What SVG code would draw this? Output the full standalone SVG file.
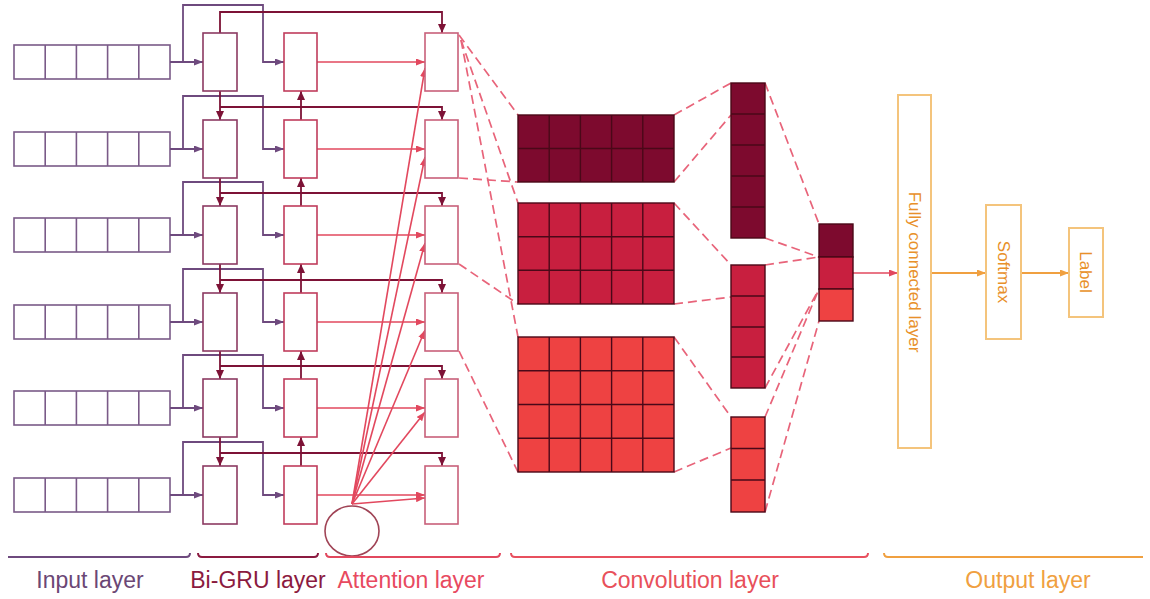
<svg xmlns="http://www.w3.org/2000/svg" width="1150" height="599" viewBox="0 0 1150 599">
<style>
.inp{fill:#fff;stroke:#7a5a88;stroke-width:1.6}
.fw{fill:#fff;stroke:#8c3a62;stroke-width:1.6}
.bw{fill:#fff;stroke:#c03c5c;stroke-width:1.6}
.att{fill:#fff;stroke:#c8607a;stroke-width:1.6}
.pl{fill:none;stroke:#6e4a7e;stroke-width:1.8}
.mr{fill:none;stroke:#7d1236;stroke-width:1.8}
.rd{fill:none;stroke:#e2485e;stroke-width:1.6}
.ds{fill:none;stroke:#e8647a;stroke-width:1.7;stroke-dasharray:9 5}
.c1{fill:#7d0a2e;stroke:#4a0818;stroke-width:1.4}
.c2{fill:#c81f3f;stroke:#4a0818;stroke-width:1.4}
.c3{fill:#ee4242;stroke:#4a0818;stroke-width:1.4}
.ob{fill:#fff;stroke:#f4c47c;stroke-width:2}
.ot{fill:#e8902a;font-family:'Liberation Sans',Arial,sans-serif;font-size:17px}
.or{fill:none;stroke:#f0a040;stroke-width:2}
.lb{font-family:'Liberation Sans',Arial,sans-serif;font-size:23px;text-anchor:middle}
.br{fill:none;stroke-width:2}
</style>
<defs>
<marker id="aP" markerWidth="9" markerHeight="7" refX="9" refY="3.5" orient="auto" markerUnits="userSpaceOnUse"><path d="M0,0 L9,3.5 L0,7 z" fill="#6e4a7e"/></marker>
<marker id="aM" markerWidth="9" markerHeight="8" refX="9" refY="4" orient="auto" markerUnits="userSpaceOnUse"><path d="M0,0 L9,4 L0,8 z" fill="#7d1236"/></marker>
<marker id="aR" markerWidth="9" markerHeight="7" refX="9" refY="3.5" orient="auto" markerUnits="userSpaceOnUse"><path d="M0,0 L9,3.5 L0,7 z" fill="#e2485e"/></marker>
<marker id="aO" markerWidth="9" markerHeight="7" refX="9" refY="3.5" orient="auto" markerUnits="userSpaceOnUse"><path d="M0,0 L9,3.5 L0,7 z" fill="#f0a040"/></marker>
<g id="cells5">
<rect class="inp" x="0" y="0" width="156" height="34"/>
<path class="inp" d="M31.2,0V34M62.4,0V34M93.6,0V34M124.8,0V34"/>
</g>
</defs>

<g id="input-layer">
<g id="input-1"><use href="#cells5" x="14" y="45"/></g>
<g id="input-2"><use href="#cells5" x="14" y="132"/></g>
<g id="input-3"><use href="#cells5" x="14" y="218"/></g>
<g id="input-4"><use href="#cells5" x="14" y="305"/></g>
<g id="input-5"><use href="#cells5" x="14" y="391"/></g>
<g id="input-6"><use href="#cells5" x="14" y="478"/></g>
</g>

<g id="connectors">
<!-- input routes -->
<path class="pl" d="M170,62H203" marker-end="url(#aP)"/>
<path class="pl" d="M183,62V5H263V62H284" marker-end="url(#aP)"/>
<path class="pl" d="M170,149H203" marker-end="url(#aP)"/>
<path class="pl" d="M183,149V96H263V149H284" marker-end="url(#aP)"/>
<path class="pl" d="M170,235H203" marker-end="url(#aP)"/>
<path class="pl" d="M183,235V182H263V235H284" marker-end="url(#aP)"/>
<path class="pl" d="M170,322H203" marker-end="url(#aP)"/>
<path class="pl" d="M183,322V269H263V322H284" marker-end="url(#aP)"/>
<path class="pl" d="M170,408H203" marker-end="url(#aP)"/>
<path class="pl" d="M183,408V355H263V408H284" marker-end="url(#aP)"/>
<path class="pl" d="M170,495H203" marker-end="url(#aP)"/>
<path class="pl" d="M183,495V442H263V495H284" marker-end="url(#aP)"/>
<!-- forward chain -->
<path class="mr" d="M220,91V120" marker-end="url(#aM)"/>
<path class="mr" d="M220,178V206" marker-end="url(#aM)"/>
<path class="mr" d="M220,264V293" marker-end="url(#aM)"/>
<path class="mr" d="M220,351V379" marker-end="url(#aM)"/>
<path class="mr" d="M220,437V466" marker-end="url(#aM)"/>
<!-- forward outputs to attention -->
<path class="mr" d="M220,33V12H442V33" marker-end="url(#aM)"/>
<path class="mr" d="M220,107H442V120" marker-end="url(#aM)"/>
<path class="mr" d="M220,193H442V206" marker-end="url(#aM)"/>
<path class="mr" d="M220,280H442V293" marker-end="url(#aM)"/>
<path class="mr" d="M220,366H442V379" marker-end="url(#aM)"/>
<path class="mr" d="M220,453H442V466" marker-end="url(#aM)"/>
<!-- backward chain -->
<path class="mr" d="M301,120V91" marker-end="url(#aM)"/>
<path class="mr" d="M301,206V178" marker-end="url(#aM)"/>
<path class="mr" d="M301,293V264" marker-end="url(#aM)"/>
<path class="mr" d="M301,379V351" marker-end="url(#aM)"/>
<path class="mr" d="M301,466V437" marker-end="url(#aM)"/>
<!-- backward outputs to attention -->
<path class="rd" d="M317,62H425" marker-end="url(#aR)"/>
<path class="rd" d="M317,149H425" marker-end="url(#aR)"/>
<path class="rd" d="M317,235H425" marker-end="url(#aR)"/>
<path class="rd" d="M317,322H425" marker-end="url(#aR)"/>
<path class="rd" d="M317,408H425" marker-end="url(#aR)"/>
<path class="rd" d="M317,495H425" marker-end="url(#aR)"/>
<!-- attention fan -->
<path class="rd" d="M352,504L425,68" marker-end="url(#aR)"/>
<path class="rd" d="M352,504L425,157" marker-end="url(#aR)"/>
<path class="rd" d="M352,504L425,243" marker-end="url(#aR)"/>
<path class="rd" d="M352,504L425,330" marker-end="url(#aR)"/>
<path class="rd" d="M352,504L425,412" marker-end="url(#aR)"/>
<path class="rd" d="M352,504L425,498" marker-end="url(#aR)"/>
<!-- dashed: attention to convolution -->
<path class="ds" d="M459,35L518,115"/>
<path class="ds" d="M459,178L518,182"/>
<path class="ds" d="M461,40L518,203"/>
<path class="ds" d="M461,40L518,337"/>
<path class="ds" d="M459,264L518,304"/>
<path class="ds" d="M459,351L518,472"/>
<!-- dashed: feature maps to pooled vectors -->
<path class="ds" d="M674,115L731,83"/>
<path class="ds" d="M674,182L731,115"/>
<path class="ds" d="M674,203L731,265"/>
<path class="ds" d="M674,304L731,297"/>
<path class="ds" d="M674,337L731,417"/>
<path class="ds" d="M674,472L731,448"/>
<!-- dashed: pooled vectors to merged vector -->
<path class="ds" d="M765,83L819,224"/>
<path class="ds" d="M765,238L819,257"/>
<path class="ds" d="M765,265L819,257"/>
<path class="ds" d="M765,388L819,289"/>
<path class="ds" d="M765,417L819,289"/>
<path class="ds" d="M765,512L819,321"/>
<!-- output arrows -->
<path class="rd" d="M853,273H898" marker-end="url(#aR)"/>
<path class="or" d="M931,273H986" marker-end="url(#aO)"/>
<path class="or" d="M1021,273H1069" marker-end="url(#aO)"/>
</g>

<g id="bigru-layer">
<g id="gru-f1"><rect class="fw" x="203" y="33" width="34" height="58"/></g>
<g id="gru-f2"><rect class="fw" x="203" y="120" width="34" height="58"/></g>
<g id="gru-f3"><rect class="fw" x="203" y="206" width="34" height="58"/></g>
<g id="gru-f4"><rect class="fw" x="203" y="293" width="34" height="58"/></g>
<g id="gru-f5"><rect class="fw" x="203" y="379" width="34" height="58"/></g>
<g id="gru-f6"><rect class="fw" x="203" y="466" width="34" height="58"/></g>
<g id="gru-b1"><rect class="bw" x="284" y="33" width="33" height="58"/></g>
<g id="gru-b2"><rect class="bw" x="284" y="120" width="33" height="58"/></g>
<g id="gru-b3"><rect class="bw" x="284" y="206" width="33" height="58"/></g>
<g id="gru-b4"><rect class="bw" x="284" y="293" width="33" height="58"/></g>
<g id="gru-b5"><rect class="bw" x="284" y="379" width="33" height="58"/></g>
<g id="gru-b6"><rect class="bw" x="284" y="466" width="33" height="58"/></g>
</g>

<g id="attention-layer">
<g id="att-1"><rect class="att" x="425" y="33" width="33" height="58"/></g>
<g id="att-2"><rect class="att" x="425" y="120" width="33" height="58"/></g>
<g id="att-3"><rect class="att" x="425" y="206" width="33" height="58"/></g>
<g id="att-4"><rect class="att" x="425" y="293" width="33" height="58"/></g>
<g id="att-5"><rect class="att" x="425" y="379" width="33" height="58"/></g>
<g id="att-6"><rect class="att" x="425" y="466" width="33" height="58"/></g>
<g id="att-context"><ellipse cx="352" cy="531" rx="27" ry="25" fill="#fff" stroke="#a04456" stroke-width="1.6"/></g>
</g>

<g id="conv-layer">
<g id="map-1">
<rect class="c1" x="518" y="115" width="156" height="67"/>
<path class="c1" d="M549.2,115V182M580.4,115V182M611.6,115V182M642.8,115V182M518,148.5H674"/>
</g>
<g id="map-2">
<rect class="c2" x="518" y="203" width="156" height="101"/>
<path class="c2" d="M549.2,203V304M580.4,203V304M611.6,203V304M642.8,203V304M518,236.7H674M518,270.3H674"/>
</g>
<g id="map-3">
<rect class="c3" x="518" y="337" width="156" height="135"/>
<path class="c3" d="M549.2,337V472M580.4,337V472M611.6,337V472M642.8,337V472M518,370.7H674M518,404.5H674M518,438.2H674"/>
</g>
<g id="pool-1">
<rect class="c1" x="731" y="83" width="34" height="155"/>
<path class="c1" d="M731,114H765M731,145H765M731,176H765M731,207H765"/>
</g>
<g id="pool-2">
<rect class="c2" x="731" y="265" width="34" height="123"/>
<path class="c2" d="M731,296H765M731,327H765M731,357H765"/>
</g>
<g id="pool-3">
<rect class="c3" x="731" y="417" width="34" height="95"/>
<path class="c3" d="M731,448.5H765M731,480H765"/>
</g>
<g id="merged">
<rect class="c1" x="819" y="224" width="34" height="33"/>
<rect class="c2" x="819" y="257" width="34" height="32"/>
<rect class="c3" x="819" y="289" width="34" height="32"/>
</g>
</g>

<g id="output-layer">
<g id="fc"><rect class="ob" x="898" y="95" width="33" height="353"/>
<text class="ot" transform="translate(909,272) rotate(90)" text-anchor="middle">Fully connected layer</text></g>
<g id="softmax"><rect class="ob" x="986" y="205" width="35" height="134"/>
<text class="ot" transform="translate(997.5,272) rotate(90)" text-anchor="middle">Softmax</text></g>
<g id="label"><rect class="ob" x="1069" y="228" width="34" height="89"/>
<text class="ot" transform="translate(1080,272) rotate(90)" text-anchor="middle">Label</text></g>
</g>

<g id="layer-labels">
<path class="br" stroke="#6e4a7e" d="M8,557H186Q190,557 190,553"/>
<path class="br" stroke="#8b1a40" d="M198,553Q198,557 202,557H314Q318,557 318,553"/>
<path class="br" stroke="#e2485e" d="M326,553Q326,557 330,557H496Q500,557 500,553"/>
<path class="br" stroke="#e8505e" d="M511,553Q511,557 515,557H864Q868,557 868,553"/>
<path class="br" stroke="#f0a040" d="M884,553Q884,557 888,557H1143"/>
<text class="lb" x="90" y="588" fill="#6b4775">Input layer</text>
<text class="lb" x="258" y="588" fill="#8b1a40">Bi-GRU layer</text>
<text class="lb" x="411" y="588" fill="#e84a5f">Attention layer</text>
<text class="lb" x="690" y="588" fill="#e8505a">Convolution layer</text>
<text class="lb" x="1028" y="588" fill="#f0a040">Output layer</text>
</g>
</svg>
